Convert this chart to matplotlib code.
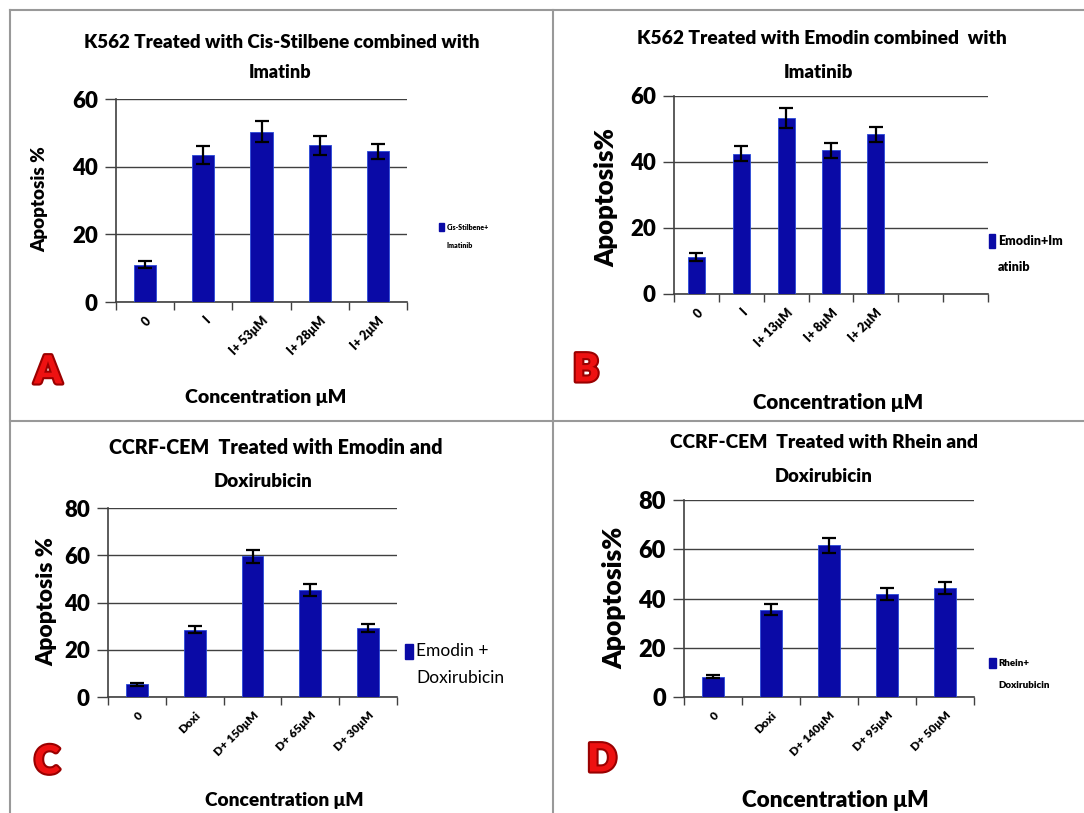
import matplotlib
matplotlib.use("Agg")
import matplotlib.pyplot as plt
import matplotlib.patheffects as pe
from matplotlib.lines import Line2D

plt.rcParams["font.family"] = ["Lato", "DejaVu Sans"]
BOLD = "heavy"

# --- data ---
a_labels = ["0", "I", "I+ 53μM", "I+ 28μM", "I+ 2μM"]
a_values = [11.0, 43.4, 50.3, 46.3, 44.5]
a_errors = [1.0, 2.7, 3.1, 2.8, 2.2]

b_labels = ["0", "I", "I+ 13μM", "I+ 8μM", "I+ 2μM", "", ""]
b_values = [11.1, 42.5, 53.4, 43.6, 48.4]
b_errors = [1.2, 2.2, 3.1, 2.3, 2.3]

c_labels = ["0", "Doxi", "D+ 150μM", "D+ 65μM", "D+ 30μM"]
c_values = [5.3, 28.5, 59.6, 45.2, 29.3]
c_errors = [0.5, 1.6, 2.8, 2.5, 1.6]

d_labels = ["0", "Doxi", "D+ 140μM", "D+ 95μM", "D+ 50μM"]
d_values = [8.3, 35.5, 61.6, 41.9, 44.3]
d_errors = [0.5, 2.2, 3.1, 2.4, 2.6]

BAR = "#0a0aa6"
W, H = 1084, 813


def fx(px):
    return px / W


def fy(py):
    return 1 - py / H


def draw_panel(fig, rect, labels, values, errors, ymax, ystep, tick_fs, tick_lab_fs):
    ax = fig.add_axes(rect)
    n = len(labels)
    xs = list(range(len(values)))
    ax.bar(xs, values, width=0.38, color=BAR, edgecolor="#2a4ad8", linewidth=0.6, zorder=3)
    ax.errorbar(xs, values, yerr=errors, fmt="none", ecolor="black",
                elinewidth=1.6, capsize=5, capthick=1.6, zorder=4)
    ax.set_xlim(-0.5, n - 0.5)
    ax.set_ylim(0, ymax)
    ax.set_yticks(range(0, ymax + 1, ystep))
    ax.set_yticklabels([str(v) for v in range(0, ymax + 1, ystep)],
                       fontsize=tick_fs, fontweight=BOLD)
    ax.yaxis.grid(True, color="#404040", linewidth=1.0, zorder=0)
    ax.tick_params(axis="y", length=8, width=1.0, color="#404040", pad=5)
    # category ticks on the boundaries, labels centred on the bars
    ax.set_xticks([i - 0.5 for i in range(n + 1)])
    ax.set_xticklabels([])
    ax.set_xticks(range(n), minor=True)
    ax.set_xticklabels(labels, minor=True, rotation=45, ha="right",
                       rotation_mode="anchor", fontsize=tick_lab_fs, fontweight=BOLD)
    ax.tick_params(axis="x", which="major", length=6, width=1.0, color="#404040", direction="out")
    ax.tick_params(axis="x", which="minor", length=0, pad=9)
    for s in ("top", "right"):
        ax.spines[s].set_visible(False)
    for s in ("left", "bottom"):
        ax.spines[s].set_color("#404040")
        ax.spines[s].set_linewidth(1.2)
    ax.set_facecolor("none")
    return ax


def legend_box(fig, x, y, sw, sh, line1, line2, dy, fs, weight=BOLD):
    # x, y: centre of the colour square in pixels
    fig.patches.append(plt.Rectangle((fx(x - sw / 2), fy(y + sh / 2)), fx(sw), sh / H,
                                     transform=fig.transFigure, color=BAR, figure=fig))
    tx = x + sw / 2 + 3
    fig.text(fx(tx), fy(y), line1, fontsize=fs, fontweight=weight, va="center", ha="left")
    fig.text(fx(tx), fy(y + dy), line2, fontsize=fs, fontweight=weight, va="center", ha="left")


def panel_letter(fig, x, y, letter):
    fig.text(fx(x), fy(y), letter, fontsize=28, fontweight="heavy", color="#ee1111",
             ha="center", va="center",
             path_effects=[pe.withStroke(linewidth=3, foreground="#9a0000")])


fig = plt.figure(figsize=(W / 100, H / 100), dpi=100)
fig.patch.set_facecolor("white")

# panel frames
frame = dict(color="#999999", linewidth=1.5, transform=fig.transFigure)
fig.lines.append(Line2D([fx(10), 1], [fy(10), fy(10)], **frame))
fig.lines.append(Line2D([fx(10), fx(10)], [fy(10), 0], **frame))
fig.lines.append(Line2D([fx(553), fx(553)], [fy(10), 0], **frame))
fig.lines.append(Line2D([fx(10), 1], [fy(421), fy(421)], **frame))

# A
draw_panel(fig, [fx(116), fy(302), fx(291), 203 / H], a_labels, a_values, a_errors,
           60, 20, 16, 9)
fig.text(fx(282), fy(42), "K562 Treated with Cis-Stilbene combined with",
         fontsize=13.5, fontweight=BOLD, ha="center", va="center")
fig.text(fx(280), fy(72), "Imatinb", fontsize=13, fontweight=BOLD, ha="center", va="center")
fig.text(fx(40), fy(199), "Apoptosis %", rotation=90, fontsize=13.5, fontweight=BOLD,
         ha="center", va="center")
fig.text(fx(266), fy(397), "Concentration μM", fontsize=14, fontweight=BOLD,
         ha="center", va="center")
legend_box(fig, 441, 227, 5, 8, "Cis-Stilbene+", "Imatinib", 18, 5)
panel_letter(fig, 48, 372, "A")

# B
draw_panel(fig, [fx(674), fy(294), fx(314), 198 / H], b_labels, b_values, b_errors,
           60, 20, 16, 9)
fig.text(fx(822), fy(38), "K562 Treated with Emodin combined  with",
         fontsize=13.8, fontweight=BOLD, ha="center", va="center")
fig.text(fx(818), fy(72), "Imatinib", fontsize=13.3, fontweight=BOLD, ha="center", va="center")
fig.text(fx(606), fy(197), "Apoptosis%", rotation=90, fontsize=18.5, fontweight=BOLD,
         ha="center", va="center")
fig.text(fx(838), fy(403), "Concentration μM", fontsize=14.8, fontweight=BOLD,
         ha="center", va="center")
legend_box(fig, 992, 241, 6, 14, "Emodin+Im", "atinib", 26, 9)
panel_letter(fig, 586, 370, "B")

# C
draw_panel(fig, [fx(108), fy(697), fx(289), 189 / H], c_labels, c_values, c_errors,
           80, 20, 16, 8.5)
fig.text(fx(276), fy(447), "CCRF-CEM  Treated with Emodin and",
         fontsize=14.2, fontweight=BOLD, ha="center", va="center")
fig.text(fx(263), fy(481), "Doxirubicin", fontsize=13.5, fontweight=BOLD,
         ha="center", va="center")
fig.text(fx(47), fy(602), "Apoptosis %", rotation=90, fontsize=16.5, fontweight=BOLD,
         ha="center", va="center")
fig.text(fx(284), fy(800), "Concentration μM", fontsize=13.8, fontweight=BOLD,
         ha="center", va="center")
legend_box(fig, 409, 651, 8, 15, "Emodin +", "Doxirubicin", 27, 12.5, weight="normal")
panel_letter(fig, 47, 762, "C")

# D
draw_panel(fig, [fx(684), fy(697), fx(290), 197 / H], d_labels, d_values, d_errors,
           80, 20, 17, 8.5)
fig.text(fx(824), fy(443), "CCRF-CEM  Treated with Rhein and",
         fontsize=13.8, fontweight=BOLD, ha="center", va="center")
fig.text(fx(824), fy(476), "Doxirubicin", fontsize=13.3, fontweight=BOLD,
         ha="center", va="center")
fig.text(fx(614), fy(598), "Apoptosis%", rotation=90, fontsize=19, fontweight=BOLD,
         ha="center", va="center")
fig.text(fx(835), fy(800), "Concentration μM", fontsize=16.2, fontweight=BOLD,
         ha="center", va="center")
legend_box(fig, 992, 663, 7, 10, "Rhein+", "Doxirubicin", 22, 7)
panel_letter(fig, 602, 760, "D")

fig.savefig("out.png", dpi=100)
